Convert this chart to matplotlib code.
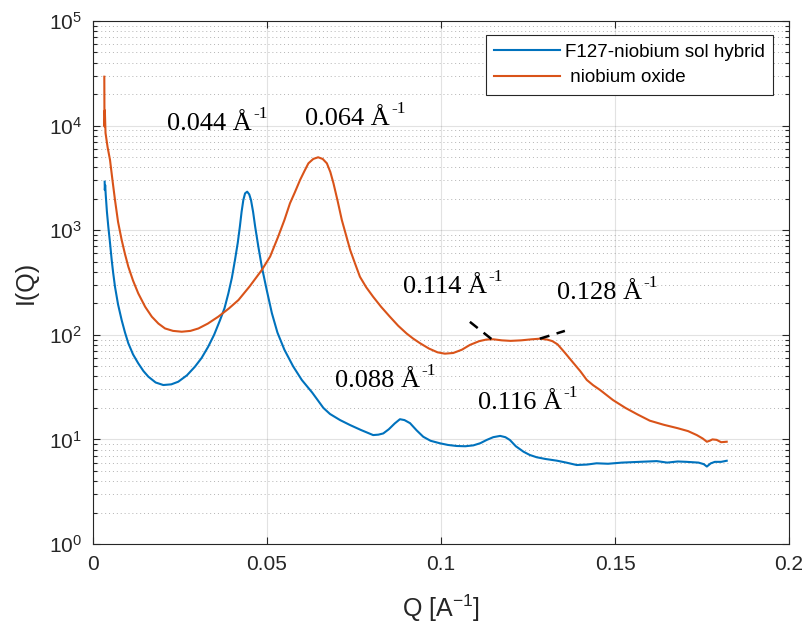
#!/usr/bin/env python3
"""
SAXS curves: F127-niobium sol hybrid vs niobium oxide
Recreates the I(Q) log plot with peak annotations
"""

import matplotlib
matplotlib.use('Agg')
import matplotlib.pyplot as plt
from matplotlib.ticker import FuncFormatter, LogLocator, NullLocator

# Values
hybrid_q = [0.00335, 0.00340, 0.00350, 0.00365, 0.0040, 0.0044, 0.0049, 0.00537, 0.0058, 0.00632,
            0.0072, 0.00824, 0.0092, 0.01015, 0.0115, 0.0130, 0.0145, 0.0159, 0.0180, 0.0202,
            0.0225, 0.0245, 0.0270, 0.0293, 0.0312, 0.0331, 0.0348, 0.0365, 0.0378, 0.0389,
            0.0399, 0.0408, 0.0416, 0.0422, 0.0427, 0.0432, 0.0437, 0.0443, 0.0449, 0.0454,
            0.0460, 0.0466, 0.0475, 0.0485, 0.0499, 0.0514, 0.0530, 0.0550, 0.0575, 0.0600,
            0.0630, 0.0662, 0.0681, 0.0710, 0.0739, 0.0770, 0.0805, 0.0820, 0.0834, 0.0850,
            0.0867, 0.0882, 0.0895, 0.0911, 0.0930, 0.0949, 0.0970, 0.0997, 0.1020, 0.1045,
            0.1070, 0.1093, 0.1113, 0.1131, 0.1150, 0.1170, 0.1185, 0.1198, 0.1215, 0.1237,
            0.1255, 0.1275, 0.1300, 0.1333, 0.1360, 0.1390, 0.1420, 0.1447, 0.1480, 0.1520,
            0.1570, 0.1620, 0.1650, 0.1680, 0.1706, 0.1740, 0.1755, 0.1764, 0.1775, 0.1787,
            0.1805, 0.1821]
hybrid_i = [2910, 2420, 2700, 2200, 1500, 1080, 750, 519, 390, 288,
            195, 138, 105, 83, 65, 53.4, 45, 39.8, 35, 33.1,
            33.6, 35.6, 41, 49.6, 60, 76.9, 100, 138, 180, 249,
            350, 519, 760, 1080, 1500, 1944, 2250, 2335, 2200, 1944,
            1500, 1080, 700, 448, 270, 161, 105, 72, 50, 37,
            28, 20, 17.5, 15.3, 13.7, 12.3, 11.0, 11.1, 11.4, 12.5,
            14.2, 15.6, 15.3, 14.3, 12.2, 10.6, 9.7, 9.18, 8.85, 8.65,
            8.6, 8.77, 9.2, 9.87, 10.5, 10.8, 10.5, 9.87, 8.6, 7.63,
            7.1, 6.75, 6.5, 6.26, 6.0, 5.69, 5.75, 5.91, 5.85, 6.0,
            6.1, 6.2, 6.0, 6.15, 6.1, 6.0, 5.8, 5.5, 5.9, 6.1,
            6.1, 6.25]

oxide_q = [0.00325, 0.00330, 0.00340, 0.00360, 0.00420, 0.00489, 0.00560, 0.00632, 0.00720, 0.00824,
           0.00920, 0.01015, 0.0115, 0.0130, 0.0150, 0.0169, 0.0188, 0.0207, 0.0230, 0.0255,
           0.0280, 0.0303, 0.0330, 0.0360, 0.0390, 0.0418, 0.0450, 0.0485, 0.0509, 0.0532,
           0.0550, 0.0566, 0.0580, 0.0595, 0.0608, 0.0619, 0.0633, 0.0647, 0.0660, 0.0672,
           0.0682, 0.0691, 0.0703, 0.0715, 0.0727, 0.0739, 0.0753, 0.0767, 0.0785, 0.0805,
           0.0828, 0.0853, 0.0877, 0.0901, 0.0920, 0.0940, 0.0965, 0.0990, 0.1011, 0.1035,
           0.1060, 0.1083, 0.1110, 0.1130, 0.1150, 0.1175, 0.1200, 0.1230, 0.1260, 0.1284,
           0.1305, 0.1320, 0.1335, 0.1355, 0.1380, 0.1400, 0.1419, 0.1437, 0.1457, 0.1494,
           0.1530, 0.1565, 0.1600, 0.1640, 0.1680, 0.1710, 0.1735, 0.1752, 0.1764, 0.1772,
           0.1780, 0.1792, 0.1805, 0.1821]
oxide_i = [29350, 9800, 14000, 8500, 6200, 4690, 3000, 1944, 1200, 806,
           590, 448, 330, 249, 185, 149, 128, 115, 109, 107,
           109, 115, 128, 149, 178, 215, 290, 416, 560, 866,
           1250, 1807, 2300, 3020, 3700, 4360, 4800, 4980, 4800, 4360,
           3600, 2810, 1900, 1252, 900, 647, 480, 359, 285, 231,
           185, 149, 122, 103, 92, 83, 74, 68, 66, 67,
           72, 80, 87, 90, 90.6, 88.5, 87.5, 88.5, 90.5, 91.8,
           90, 87, 81, 68, 54, 45, 37, 33, 29.7, 23.8,
           20, 17.3, 15.1, 13.8, 12.8, 12.0, 11.0, 10.2, 9.5, 9.7,
           10.0, 9.9, 9.4, 9.5]

series_labels = ['F127-niobium sol hybrid', ' niobium oxide']
series_colors = ['#0072BD', '#D95319']

# Peak labels: text, q position, intensity position (text baseline)
peak_texts = ['0.044 Å', '0.064 Å', '0.114 Å', '0.128 Å', '0.088 Å', '0.116 Å']
peak_q = [0.0213, 0.0609, 0.0891, 0.1333, 0.0695, 0.1106]
peak_i = [9080, 10140, 251, 220, 31.7, 19.6]

# Dashed marker segments at the oxide shoulders
dash_q = [[0.1083, 0.1146], [0.1284, 0.1356]]
dash_i = [[133, 90.6], [91.8, 109]]

x_ticks = [0, 0.05, 0.1, 0.15, 0.2]

AXIS_COLOR = '#262626'


def setup_style():
    """Fonts close to the MATLAB look"""
    plt.rcParams['font.family'] = ['Liberation Sans', 'DejaVu Sans']
    plt.rcParams['mathtext.fontset'] = 'custom'
    plt.rcParams['mathtext.rm'] = 'Liberation Sans'
    plt.rcParams['mathtext.it'] = 'Liberation Sans:italic'
    plt.rcParams['mathtext.bf'] = 'Liberation Sans:bold'


def draw_annotations(ax):
    """Peak positions written in serif with a -1 superscript"""
    for text, q, i in zip(peak_texts, peak_q, peak_i):
        t = ax.text(q, i, text, family='Liberation Serif', fontsize=19,
                    ha='left', va='baseline', color='black')
        ax.annotate('-1', xy=(1, 1), xycoords=t, xytext=(1, 5),
                    textcoords='offset points', ha='left', va='top',
                    family='Liberation Serif', fontsize=12.5, color='black')

    for qs, ys in zip(dash_q, dash_i):
        ax.plot(qs, ys, color='black', lw=1.8, ls=(0, (4, 3)))


def main():
    setup_style()

    fig = plt.figure(figsize=(8.08, 6.25), dpi=100)
    ax = fig.add_axes([93 / 808, 1 - 544 / 625, 696 / 808, 523 / 625])

    ax.plot(hybrid_q, hybrid_i, color=series_colors[0], lw=1.5, label=series_labels[0])
    ax.plot(oxide_q, oxide_i, color=series_colors[1], lw=1.5, label=series_labels[1])

    ax.set_yscale('log')
    ax.set_xlim(0, 0.2)
    ax.set_ylim(1, 1e5)

    ax.set_xticks(x_ticks)
    ax.xaxis.set_major_formatter(FuncFormatter(lambda v, p: '%g' % v))
    ax.xaxis.set_minor_locator(NullLocator())
    ax.yaxis.set_major_locator(LogLocator(base=10, numticks=10))
    ax.yaxis.set_minor_locator(LogLocator(base=10, subs=range(2, 10), numticks=50))

    # Grid like MATLAB: solid major, dotted minor on y
    ax.set_axisbelow(True)
    ax.grid(True, which='major', color=AXIS_COLOR, alpha=0.13, lw=0.8, ls='-')
    ax.grid(True, which='minor', axis='y', color=AXIS_COLOR, alpha=0.35, lw=0.7, ls=(0, (1, 3)))

    ax.tick_params(which='both', direction='in', top=True, right=True,
                   colors=AXIS_COLOR, labelsize=15, width=0.8)
    ax.tick_params(which='major', length=5, pad=8)
    ax.tick_params(which='minor', length=3)
    for spine in ax.spines.values():
        spine.set_color(AXIS_COLOR)
        spine.set_linewidth(0.8)

    ax.set_xlabel('Q [A$^{-1}$]', fontsize=18, color=AXIS_COLOR)
    ax.set_ylabel('I(Q)', fontsize=18, color=AXIS_COLOR)
    ax.xaxis.set_label_coords(0.5, -0.092)
    ax.yaxis.set_label_coords(-0.079, 0.5)

    draw_annotations(ax)

    leg = ax.legend(loc='upper right', bbox_to_anchor=(0.977, 0.973), borderaxespad=0,
                    fontsize=13.5, handlelength=3.5, handletextpad=0.25,
                    fancybox=False, framealpha=1, edgecolor=AXIS_COLOR,
                    borderpad=0.45, labelspacing=0.45)
    leg.get_frame().set_linewidth(0.8)

    fig.savefig('out.png', dpi=100)
    print("Saved out.png")


if __name__ == "__main__":
    main()
